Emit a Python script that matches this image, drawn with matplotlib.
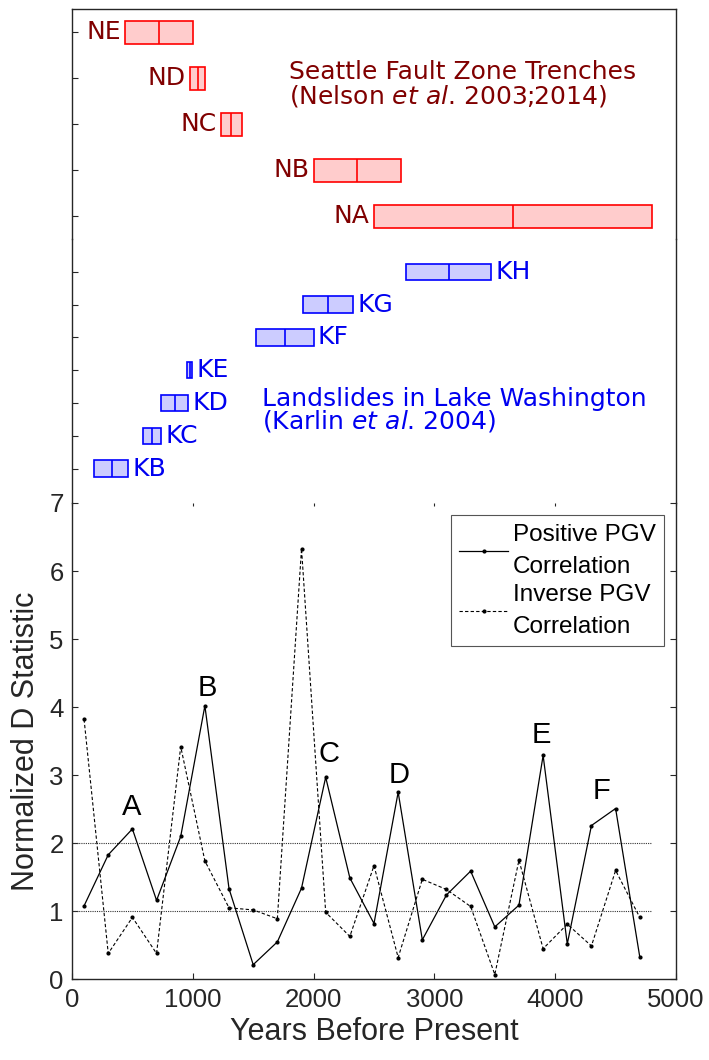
import matplotlib
matplotlib.use("Agg")
import matplotlib.pyplot as plt

# ---- Seattle Fault Zone trench events (years before present) ----
nelson_events = ["NE", "ND", "NC", "NB", "NA"]
nelson_start = [440, 975, 1230, 2000, 2500]
nelson_end = [1000, 1105, 1410, 2720, 4800]
nelson_mid = [720, 1040, 1320, 2360, 3650]

# ---- Lake Washington landslide events ----
karlin_events = ["KH", "KG", "KF", "KE", "KD", "KC", "KB"]
karlin_start = [2765, 1915, 1525, 955, 740, 585, 185]
karlin_end = [3470, 2325, 2000, 995, 960, 740, 465]
karlin_mid = [3120, 2120, 1760, 975, 850, 660, 330]

# ---- Normalized D statistic series ----
years = [100, 300, 500, 700, 900, 1100, 1300, 1500, 1700, 1900, 2100, 2300,
         2500, 2700, 2900, 3100, 3300, 3500, 3700, 3900, 4100, 4300, 4500, 4700]
positive = [1.08, 1.83, 2.21, 1.16, 2.10, 4.02, 1.33, 0.215, 0.55, 1.34, 2.97, 1.49,
            0.82, 2.75, 0.58, 1.24, 1.59, 0.77, 1.09, 3.29, 0.52, 2.26, 2.51, 0.33]
inverse = [3.82, 0.38, 0.91, 0.38, 3.42, 1.74, 1.05, 1.02, 0.89, 6.33, 0.985, 0.63,
           1.67, 0.32, 1.47, 1.32, 1.07, 0.07, 1.75, 0.45, 0.81, 0.49, 1.60, 0.91]

thresholds = [1, 2]
peak_labels = ["A", "B", "C", "D", "E", "F"]
peak_x = [493, 1116, 2126, 2711, 3887, 4380]
peak_y = [2.42, 4.16, 3.19, 2.88, 3.47, 2.65]

x_ticks = [0, 1000, 2000, 3000, 4000, 5000]
y_ticks = [0, 1, 2, 3, 4, 5, 6, 7]

RED_EDGE, RED_FACE, RED_TEXT = "#FF0000", "#FFCCCC", "#800000"
BLUE_EDGE, BLUE_FACE, BLUE_TEXT = "#0000FF", "#CCCCFF", "#0000F0"
SPINE = "#262626"

plt.rcParams["mathtext.fontset"] = "dejavusans"

W_PX, H_PX = 709, 1060
fig = plt.figure(figsize=(W_PX / 100, H_PX / 100), dpi=100)


def rect(top, bottom, left=72, right=676):
    return [left / W_PX, 1 - bottom / H_PX, (right - left) / W_PX, (bottom - top) / H_PX]


ax_n = fig.add_axes(rect(9, 239))
ax_k = fig.add_axes(rect(239, 503))
ax = fig.add_axes(rect(503, 979.3))

top_font = dict(family="DejaVu Sans", fontsize=18)


def style_event_axes(a, show_top):
    a.set_xlim(0, 5000)
    a.set_xticks([])
    a.spines["bottom"].set_visible(False)
    a.spines["top"].set_visible(show_top)
    for s in ("left", "right", "top"):
        a.spines[s].set_color(SPINE)
        a.spines[s].set_linewidth(1.0)
    a.tick_params(axis="y", direction="in", length=4, color=SPINE, labelleft=False)
    a.patch.set_alpha(0)


# Nelson trenches
style_event_axes(ax_n, True)
ax_n.set_ylim(4.5, -0.5)
n_pos = list(range(len(nelson_events)))
ax_n.set_yticks(n_pos)
ax_n.barh(n_pos, [e - s for s, e in zip(nelson_start, nelson_end)], left=nelson_start,
          height=0.5, color=RED_FACE, edgecolor=RED_EDGE, linewidth=1.2)
ax_n.vlines(nelson_mid, [p - 0.25 for p in n_pos], [p + 0.25 for p in n_pos],
            color=RED_EDGE, linewidth=1.2)
for p, name, s in zip(n_pos, nelson_events, nelson_start):
    ax_n.annotate(name, (s, p), xytext=(-3, 0), textcoords="offset points",
                  ha="right", va="center", color=RED_TEXT, **top_font)
ax_n.text(1793, 1.02, "Seattle Fault Zone Trenches", ha="left", va="baseline",
          color=RED_TEXT, **top_font)
ax_n.text(1793, 1.565, r"(Nelson $\mathit{et\ al}$. 2003;2014)", ha="left",
          va="baseline", color=RED_TEXT, **top_font)

# Karlin landslides
style_event_axes(ax_k, False)
ax_k.set_ylim(7.05, -1.0)
k_pos = list(range(len(karlin_events)))
ax_k.set_yticks(k_pos)
ax_k.barh(k_pos, [e - s for s, e in zip(karlin_start, karlin_end)], left=karlin_start,
          height=0.5, color=BLUE_FACE, edgecolor=BLUE_EDGE, linewidth=1.2)
ax_k.vlines(karlin_mid, [p - 0.25 for p in k_pos], [p + 0.25 for p in k_pos],
            color=BLUE_EDGE, linewidth=1.2)
for p, name, e in zip(k_pos, karlin_events, karlin_end):
    ax_k.annotate(name, (e, p), xytext=(3, 0), textcoords="offset points",
                  ha="left", va="center", color=BLUE_TEXT, **top_font)
ax_k.text(1570, 4.08, "Landslides in Lake Washington", ha="left", va="baseline",
          color=BLUE_TEXT, **top_font)
ax_k.text(1570, 4.77, r"(Karlin $\mathit{et\ al}$. 2004)", ha="left", va="baseline",
          color=BLUE_TEXT, **top_font)

# D statistic panel
sans = "Liberation Sans"
ax.set_xlim(0, 5000)
ax.set_ylim(0, 7)
ax.spines["top"].set_visible(False)
for s in ("left", "right", "bottom"):
    ax.spines[s].set_color(SPINE)
    ax.spines[s].set_linewidth(1.0)
ax.hlines(thresholds, 0, 4800, colors="#333333", linestyles=(0, (1, 1)), linewidth=0.8)
ax.plot(years, positive, color="black", linewidth=0.9, marker="o", markersize=2,
        label="Positive PGV\nCorrelation")
ax.plot(years, inverse, color="black", linewidth=0.8, linestyle=(0, (3, 2)),
        marker="o", markersize=2, label="Inverse PGV\nCorrelation")
for lab, px, py in zip(peak_labels, peak_x, peak_y):
    ax.text(px, py, lab, ha="center", va="baseline", fontsize=21, family=sans)

ax.set_xticks(x_ticks)
ax.set_yticks(y_ticks)
ax.tick_params(axis="both", direction="in", length=4, color=SPINE,
               labelsize=18.5, labelcolor="#262626", right=True, top=True, pad=6)
for lbl in ax.get_xticklabels() + ax.get_yticklabels():
    lbl.set_family(sans)
for t in ax.xaxis.get_major_ticks():
    t.tick2line.set_color("#BBBBBB")
    t.tick2line.set_markersize(2)
ax.set_xlabel("Years Before Present", fontsize=22, family=sans, color="#262626", labelpad=4)
ax.set_ylabel("Normalized D Statistic", fontsize=22, family=sans, color="#262626", labelpad=6)

leg = ax.legend(loc="upper right", bbox_to_anchor=(0.9806, 0.9748), borderaxespad=0,
                prop=dict(family=sans, size=17.5), handlelength=2.0, handletextpad=0.2,
                borderpad=0.35, labelspacing=0.25, frameon=True, fancybox=False,
                framealpha=1)
for txt in leg.get_texts():
    txt.set_linespacing(1.6)
leg.get_frame().set_edgecolor("#555555")
leg.get_frame().set_linewidth(0.8)

fig.savefig("out.png", dpi=100)
